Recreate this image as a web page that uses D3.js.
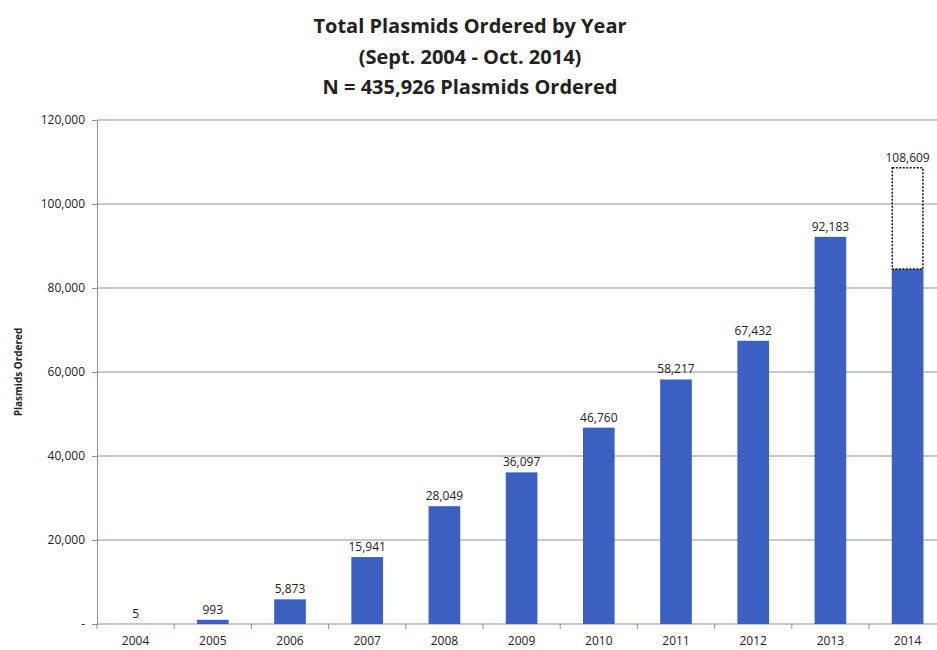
<!DOCTYPE html>
<html>
<head>
<meta charset="utf-8">
<script src="https://cdn.jsdelivr.net/npm/d3@7"></script>
<style>
  html, body { margin: 0; padding: 0; background: #fff; }
  svg { display: block; }
  text { font-family: "Open Sans", "Noto Sans", "Liberation Sans", sans-serif; fill: #222; }
</style>
</head>
<body>
<svg id="chart" width="937" height="650"></svg>
<script>
// Plasmids ordered per year
const years = ["2004", "2005", "2006", "2007", "2008", "2009", "2010", "2011", "2012", "2013", "2014"];
const ordered = [5, 993, 5873, 15941, 28049, 36097, 46760, 58217, 67432, 92183, 84500];
const valueLabels = ["5", "993", "5,873", "15,941", "28,049", "36,097", "46,760", "58,217", "67,432", "92,183", "108,609"];
// 2014 projected full-year total (drawn as a dotted outline)
const projectedYear = "2014";
const projectedTotal = 108609;
const yTicks = [0, 20000, 40000, 60000, 80000, 100000, 120000];
const titleLines = ["Total Plasmids Ordered by Year", "(Sept. 2004 - Oct. 2014)", "N = 435,926 Plasmids Ordered"];

const svg = d3.select("#chart");
const margin = { left: 97, top: 120, bottom: 624 };
const bandW = 77.2;

const x = d3.scaleBand()
  .domain(years)
  .range([margin.left, margin.left + bandW * years.length])
  .paddingInner(0.59)
  .paddingOuter(0.295);

const y = d3.scaleLinear().domain([0, 120000]).range([margin.bottom, margin.top]);

// Title
svg.append("g").selectAll("text")
  .data(titleLines)
  .join("text")
  .attr("x", 470)
  .attr("y", (d, i) => 33 + i * 30.5)
  .attr("text-anchor", "middle")
  .style("font-size", "20px")
  .style("font-weight", "bold")
  .text(d => d);

// Horizontal grid lines
svg.append("g").selectAll("line")
  .data(yTicks.filter(t => t > 0))
  .join("line")
  .attr("x1", margin.left)
  .attr("x2", 937)
  .attr("y1", d => y(d))
  .attr("y2", d => y(d))
  .attr("stroke", "#8a8fa8")
  .attr("stroke-width", 1);

// Y axis
const yAxis = d3.axisLeft(y)
  .tickValues(yTicks)
  .tickSize(5)
  .tickFormat(d => d === 0 ? "-" : d3.format(",")(d));
const gy = svg.append("g")
  .attr("transform", `translate(${margin.left},0)`)
  .call(yAxis);
gy.select(".domain").attr("stroke", "#8a8fa8");
gy.selectAll(".tick line").attr("stroke", "#8a8fa8");
gy.selectAll(".tick text")
  .attr("x", -12)
  .style("font-size", "12px")
  .style("font-family", "'Open Sans', 'Noto Sans', sans-serif")
  .attr("fill", "#222");

// Y axis title
svg.append("text")
  .attr("transform", `translate(22,${(margin.top + margin.bottom) / 2}) rotate(-90)`)
  .attr("text-anchor", "middle")
  .style("font-size", "10px")
  .style("font-weight", "bold")
  .text("Plasmids Ordered");

// X axis line with ticks at the band boundaries
svg.append("line")
  .attr("x1", margin.left).attr("x2", 937)
  .attr("y1", y(0)).attr("y2", y(0))
  .attr("stroke", "#8a8fa8");
svg.append("g").selectAll("line")
  .data(d3.range(years.length + 1))
  .join("line")
  .attr("x1", i => margin.left + i * bandW)
  .attr("x2", i => margin.left + i * bandW)
  .attr("y1", y(0))
  .attr("y2", y(0) + 5)
  .attr("stroke", "#8a8fa8");

// Year labels
svg.append("g").selectAll("text")
  .data(years)
  .join("text")
  .attr("x", d => x(d) + x.bandwidth() / 2)
  .attr("y", 645)
  .attr("text-anchor", "middle")
  .style("font-size", "12px")
  .text(d => d);

// Bars
const bars = years.map((yr, i) => ({ year: yr, value: ordered[i], label: valueLabels[i] }));
svg.append("g").selectAll("rect")
  .data(bars)
  .join("rect")
  .attr("x", d => x(d.year))
  .attr("y", d => y(d.value))
  .attr("width", x.bandwidth())
  .attr("height", d => y(0) - y(d.value))
  .attr("fill", "#3c5fc2");

// Projected remainder for 2014
const lastVal = ordered[years.indexOf(projectedYear)];
svg.append("rect")
  .attr("x", x(projectedYear) + 0.5)
  .attr("y", y(projectedTotal))
  .attr("width", x.bandwidth() - 1)
  .attr("height", y(lastVal) - y(projectedTotal))
  .attr("fill", "#fff")
  .attr("fill-opacity", 0)
  .attr("stroke", "#111")
  .attr("stroke-width", 1.5)
  .attr("stroke-dasharray", "2,1.5");

// Value labels above bars
svg.append("g").selectAll("text")
  .data(bars)
  .join("text")
  .attr("x", d => x(d.year) + x.bandwidth() / 2)
  .attr("y", d => (d.year === projectedYear ? y(projectedTotal) : y(d.value)) - 6)
  .attr("text-anchor", "middle")
  .style("font-size", "12px")
  .text(d => d.label);
</script>
</body>
</html>
